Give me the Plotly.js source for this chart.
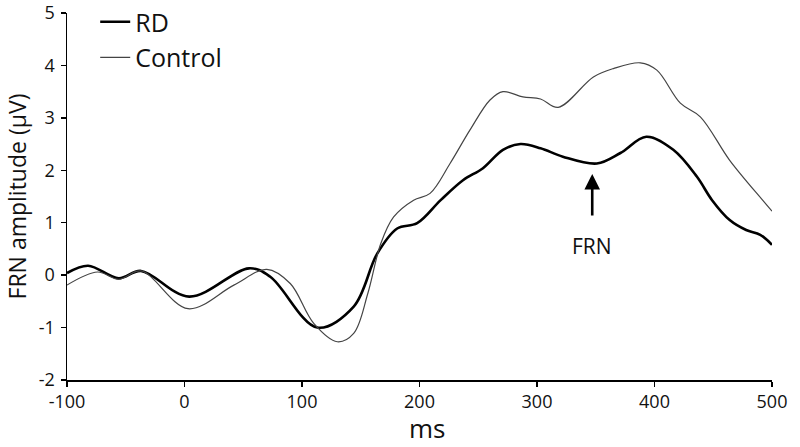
<!DOCTYPE html>
<html>
<head>
<meta charset="utf-8">
<script src="https://cdn.plot.ly/plotly-3.0.1.min.js"></script>
<style>
  html, body { margin: 0; padding: 0; background: #fff; }
  #plot { width: 800px; height: 447px; }
</style>
</head>
<body>
<div id="plot"></div>
<script>
// values (ms, µV)
const rdMs = [-100, -82, -56, -37, 4, 55, 73, 113, 144, 164, 181, 198, 218, 237, 254, 271, 286, 303, 322, 351, 371, 393, 416, 436, 449, 464, 478, 490, 500];
const rdAmp = [0.04, 0.18, -0.06, 0.08, -0.41, 0.13, -0.03, -1.0, -0.6, 0.41, 0.89, 0.99, 1.43, 1.81, 2.04, 2.39, 2.5, 2.42, 2.26, 2.13, 2.33, 2.64, 2.39, 1.88, 1.43, 1.05, 0.86, 0.77, 0.58];

const ctlMs = [-100, -74, -56, -37, 3, 42, 70, 90, 110, 130, 144, 156, 167, 178, 195, 209, 226, 243, 260, 271, 288, 303, 318, 348, 365, 388, 402, 422, 439, 464, 492, 500];
const ctlAmp = [-0.19, 0.06, -0.08, 0.08, -0.64, -0.19, 0.11, -0.16, -0.92, -1.27, -1.11, -0.35, 0.6, 1.11, 1.43, 1.56, 2.13, 2.77, 3.34, 3.5, 3.4, 3.36, 3.2, 3.78, 3.94, 4.05, 3.91, 3.28, 3.02, 2.19, 1.43, 1.22];

const xTicks = [-100, 0, 100, 200, 300, 400, 500];
const xTickText = ["-100", "0", "100", "200", "300", "400", "500"];
const yTicks = [-2, -1, 0, 1, 2, 3, 4, 5];
const yTickText = ["-2", "-1", "0", "1", "2", "3", "4", "5"];

const frnMs = 347;
const frnArrow = [1.11, 1.93];
const frnLabelY = 0.55;

const font = "Open Sans, DejaVu Sans, sans-serif";

const traces = [
  {
    x: rdMs, y: rdAmp, name: "RD", type: "scatter", mode: "lines",
    line: { color: "#000", width: 2.6, shape: "spline", smoothing: 1 },
  },
  {
    x: ctlMs, y: ctlAmp, name: "Control", type: "scatter", mode: "lines",
    line: { color: "#444", width: 1.2, shape: "spline", smoothing: 1 },
  },
];

const axisBase = {
  showgrid: false, zeroline: false, showline: true,
  linecolor: "#000", linewidth: 1.5,
  ticks: "outside", ticklen: 5, tickwidth: 1.3, tickcolor: "#000",
  tickfont: { family: font, size: 18, color: "#111" },
};

const layout = {
  width: 800, height: 447,
  margin: { l: 67, r: 28, t: 13, b: 67, autoexpand: false },
  paper_bgcolor: "#fff", plot_bgcolor: "#fff",
  font: { family: font, color: "#111" },
  showlegend: true,
  legend: {
    x: 0.04, y: 1.038, xanchor: "left", yanchor: "top",
    font: { family: font, size: 25, color: "#111" },
    bgcolor: "rgba(0,0,0,0)", tracegroupgap: 0, itemwidth: 30,
  },
  xaxis: Object.assign({}, axisBase, {
    range: [-100, 500], tickvals: xTicks, ticktext: xTickText, ticklabelstandoff: 0,
  }),
  yaxis: Object.assign({}, axisBase, {
    range: [-2, 5], tickvals: yTicks, ticktext: yTickText, ticklabelstandoff: 2,
    title: { text: "FRN amplitude (μV)", font: { family: font, size: 23, color: "#111" }, standoff: 6 },
  }),
  annotations: [
    {
      x: frnMs, y: frnArrow[1], ax: frnMs, ay: frnArrow[0],
      xref: "x", yref: "y", axref: "x", ayref: "y",
      text: "", showarrow: true, arrowhead: 2, arrowsize: 1.2, arrowwidth: 2.6, arrowcolor: "#000",
    },
    {
      x: frnMs, y: frnLabelY, xref: "x", yref: "y", text: "FRN", showarrow: false,
      font: { family: font, size: 21, color: "#111" },
    },
    {
      // x-axis title, placed by hand so it sits low like the original
      x: 0.51, y: -0.13, xref: "paper", yref: "paper", yanchor: "middle",
      text: "ms", showarrow: false, borderpad: 0,
      font: { family: font, size: 26, color: "#111" },
    },
  ],
};

Plotly.newPlot("plot", traces, layout, { displayModeBar: false, staticPlot: true });
</script>
</body>
</html>
